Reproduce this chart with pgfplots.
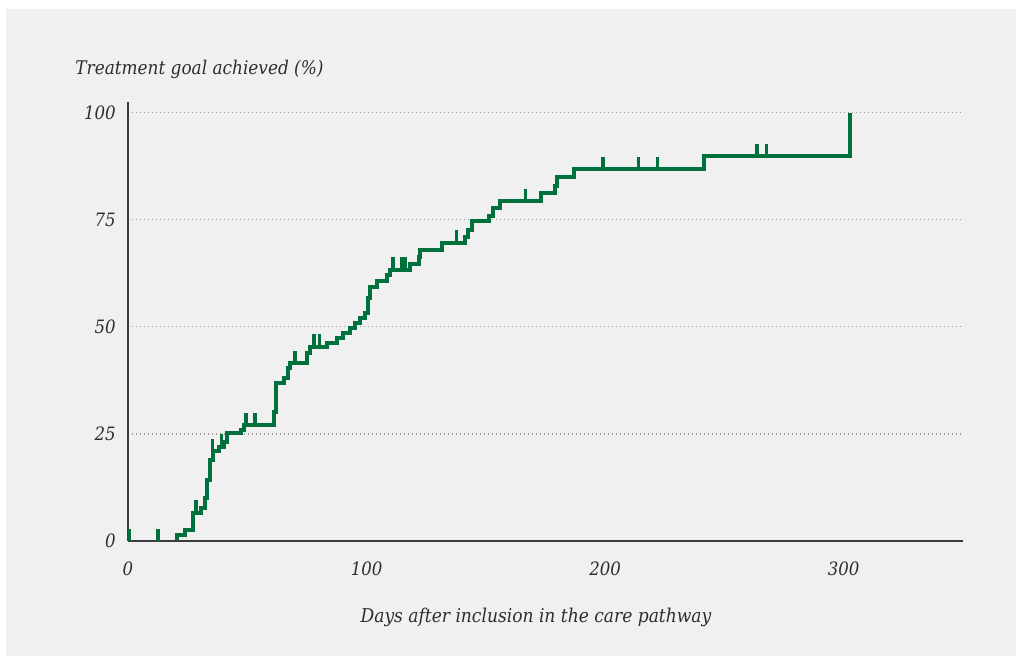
\documentclass[border=0pt]{standalone}
\usepackage{fontspec}
\setmainfont{DejaVu Serif Condensed}
\usepackage{pgfplots}
\pgfplotsset{compat=1.18}
\definecolor{kmgreen}{RGB}{0,112,60}
\definecolor{bggray}{RGB}{240,240,240}
\definecolor{axgray}{RGB}{60,60,60}
\definecolor{txtgray}{RGB}{45,45,45}
\pgfdeclareplotmark{cens}{\pgfpathmoveto{\pgfpointorigin}\pgfpathlineto{\pgfpoint{0pt}{6.2pt}}\pgfusepathqstroke}
\begin{document}
\begin{tikzpicture}
\fill[white] (0pt,0pt) rectangle (511pt,331.5pt);
\fill[bggray] (3pt,3.5pt) rectangle (508pt,327pt);
\begin{axis}[
  at={(64pt,61pt)}, anchor=south west,
  scale only axis, width=417.5pt, height=219.5pt,
  xmin=0, xmax=350, ymin=0, ymax=102.5,
  axis x line*=bottom, axis y line*=left,
  axis line style={-, axgray, line width=0.8pt},
  xtick={0,100,200,300}, ytick={0,25,50,75,100},
  major tick length=0pt,
  tick style={draw=none},
  /pgf/number format/assume math mode=true,
  ticklabel style={font=\fontsize{9.2}{10}\selectfont\itshape, text=txtgray},
  yticklabel style={anchor=east, inner sep=0pt, xshift=-6pt},
  xticklabel style={anchor=north, inner sep=0pt, yshift=-10pt},
  clip=false,
  axis on top,
]
% dotted grid lines
\addplot[draw=gray!80, line width=0.6pt, dash pattern=on 0.6pt off 1.4pt, forget plot] coordinates {(0,25) (350,25)};
\addplot[draw=gray!80, line width=0.6pt, dash pattern=on 0.6pt off 1.4pt, forget plot] coordinates {(0,50) (350,50)};
\addplot[draw=gray!80, line width=0.6pt, dash pattern=on 0.6pt off 1.4pt, forget plot] coordinates {(0,75) (350,75)};
\addplot[draw=gray!80, line width=0.6pt, dash pattern=on 0.6pt off 1.4pt, forget plot] coordinates {(0,100) (350,100)};
% step curve
\addplot[const plot, kmgreen, line width=2pt, mark=none] table {
x y
20.4 0
20.4 1.4
23.9 2.6
27.4 6.6
30.5 7.7
32.3 10.0
33.0 14.3
34.4 18.9
35.5 20.9
38.3 22.0
40.3 23.2
41.4 25.2
47.4 25.8
48.7 27.1
61.0 30.2
62.0 36.8
65.2 38.0
67.2 40.3
68.0 41.5
75.0 43.9
76.3 45.4
83.3 46.3
87.5 47.4
90.3 48.5
93.1 49.7
95.2 50.9
97.3 52.0
99.4 53.2
100.5 56.7
101.5 59.4
104.3 60.6
108.5 62.1
109.9 63.3
118.0 64.7
121.8 66.4
122.5 68.0
131.6 69.6
141.4 71.0
142.6 72.5
144.2 74.6
151.3 75.9
153.2 77.7
156.0 79.3
173.0 81.2
179.1 83.0
180.0 84.9
187.0 86.8
241.3 89.8
302.6 100
};
% censoring marks
\addplot[only marks, mark=cens, mark options={kmgreen, line width=1.7pt}] table {
x y
0.6 0
12.5 0
28.5 6.6
35.5 20.9
39.3 22.0
49.5 27.1
53.3 27.1
70.0 41.5
78.0 45.4
80.3 45.4
111.0 63.3
114.8 63.3
116.2 63.3
137.8 69.6
166.5 79.3
199.1 86.8
214.0 86.8
222.0 86.8
263.7 89.8
267.6 89.8
};
\end{axis}
\node[anchor=west, inner sep=0pt, text=txtgray, font=\fontsize{9.4}{11}\selectfont\itshape] at (37.5pt,297pt) {Treatment goal achieved (\%)};
\node[inner sep=0pt, text=txtgray, font=\fontsize{9.5}{11}\selectfont\itshape] at (268pt,23pt) {Days after inclusion in the care pathway};
\end{tikzpicture}
\end{document}
